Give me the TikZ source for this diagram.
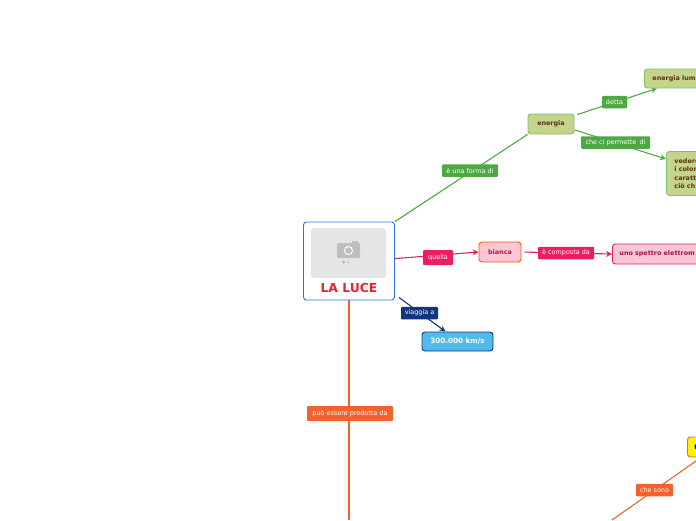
\documentclass[tikz,border=0pt]{standalone}
\usepackage{fontspec}
\setmainfont{DejaVu Sans}
\usetikzlibrary{backgrounds,arrows.meta}
\definecolor{verde}{HTML}{4EA843}
\definecolor{verdechiaro}{HTML}{C5D38C}
\definecolor{bordoverde}{HTML}{7FC06A}
\definecolor{marrone}{HTML}{5A3410}
\definecolor{rosa}{HTML}{E91E63}
\definecolor{rosachiaro}{HTML}{FBC6D4}
\definecolor{blu}{HTML}{12357F}
\definecolor{azzurro}{HTML}{52BBEE}
\definecolor{arancio}{HTML}{F1622E}
\definecolor{bordoluce}{HTML}{2A74E0}
\definecolor{rosso}{HTML}{E8232F}
\tikzset{
    etichetta/.style={rounded corners=1pt, text=white, font=\fontsize{6.45}{7}\selectfont, inner sep=0pt, minimum height=12.5pt},
    casella/.style={rounded corners=3pt, draw, line width=0.9pt, font=\fontsize{6.4}{8.4}\selectfont\bfseries, inner sep=0pt},
    casellaverde/.style={casella, fill=verdechiaro, draw=bordoverde, text=marrone},
    linea/.style={line width=1.1pt}
}
\begin{document}
\begin{tikzpicture}[>={Stealth[length=6pt,width=6pt]}, x=1pt, y=-1pt]
\useasboundingbox (0,0) rectangle (696,520);
\clip (0,0) rectangle (696,520);
\node[draw=bordoluce, rounded corners=3pt, line width=0.9pt, minimum width=91pt, minimum height=78pt, inner sep=0pt] (luce) at (349,261) {};
\fill[gray!20, rounded corners=3pt] (311,228) rectangle (386,278);
\fill[gray!50, rounded corners=1pt] (337,243) rectangle (360,258);
\fill[gray!50] (352,243) rectangle (358,241);
\draw[white, line width=1pt, fill=gray!50] (348.5,250.5) circle (4);
\fill[gray!60] (343.5,262) circle (1.5);
\fill[gray!40] (348,262) circle (1.5);
\node[text=rosso, font=\fontsize{12.4}{14}\selectfont\bfseries] (titolo) at (349,288) {LA LUCE};

\node[casellaverde, minimum width=46pt, minimum height=20pt] (energia) at (551,124) {energia};
\node[casellaverde, anchor=west, minimum width=90pt, minimum height=19pt, text width=74pt, align=left] (lum) at (644,78.5) {energia lum};
\node[casellaverde, anchor=north west, minimum width=60pt, minimum height=44pt, text width=44pt, align=left] (vedere) at (666,151) {vedere\\i colori\\caratt\\ciò ch};
\node[casella, fill=rosachiaro, draw=orange!70!red, text=rosa!80!black, minimum width=42pt, minimum height=20pt] (bianca) at (500,252) {bianca};
\node[casella, fill=rosachiaro, draw=rosa, text=rosa!70!black, anchor=west, minimum width=120pt, minimum height=20pt, text width=106pt, align=left] (spettro) at (612,254) {uno spettro elettrom};
\node[casella, fill=azzurro, draw=blu, text=white, minimum width=71pt, minimum height=19pt, font=\fontsize{7.2}{8.4}\selectfont\bfseries] (km) at (457.5,341.5) {300.000 km/s};
\node[casella, fill=yellow, draw=arancio, text=black, anchor=west, minimum width=40pt, minimum height=20pt, text width=26pt, align=left] (giallo) at (687,447) {t};

\node[etichetta, fill=verde, minimum width=56pt] (forma) at (470,170.5) {è una forma di};
\node[etichetta, fill=verde, minimum width=25pt] (detta) at (614.5,102) {detta};
\node[etichetta, fill=verde, minimum width=69pt] (permette) at (615.5,142.5) {che ci permette\, di};
\node[etichetta, fill=rosa, minimum width=30pt, minimum height=15pt] (quella) at (438,257.5) {quella};
\node[etichetta, fill=rosa, minimum width=56pt] (composta) at (566,253) {è composta da};
\node[etichetta, fill=blu, minimum width=37pt] (viaggia) at (419.5,313) {viaggia a};
\node[etichetta, fill=arancio, minimum width=86pt, minimum height=15pt] (prodotta) at (350,413.5) {può essere prodotta da};
\node[etichetta, fill=arancio, minimum width=37pt] (sono) at (654.5,490) {che sono};

\coordinate (fondo) at (349,520);
\coordinate (inizio) at (612,520);
\begin{scope}[on background layer]
\draw[linea, verde] (luce.north east) -- (energia.south west);
\draw[linea, verde, ->, shorten <=3pt] (energia.20) -- ([xshift=13pt]lum.south west);
\draw[linea, verde, ->] (energia.-14) -- ([yshift=-8pt]vedere.north west);
\draw[linea, rosa, ->] (luce.3) -- (bianca.west);
\draw[linea, rosa, ->, shorten <=3pt] (bianca.east) -- (spettro.west);
\draw[linea, blu, ->] ([xshift=4pt,yshift=3pt]luce.south east) -- ([xshift=-12pt]km.north);
\draw[linea, arancio, line width=1.3pt] (luce.south) -- (fondo);
\draw[linea, arancio] (inizio) -- ([xshift=14pt]giallo.south west);
\end{scope}
\end{tikzpicture}
\end{document}
